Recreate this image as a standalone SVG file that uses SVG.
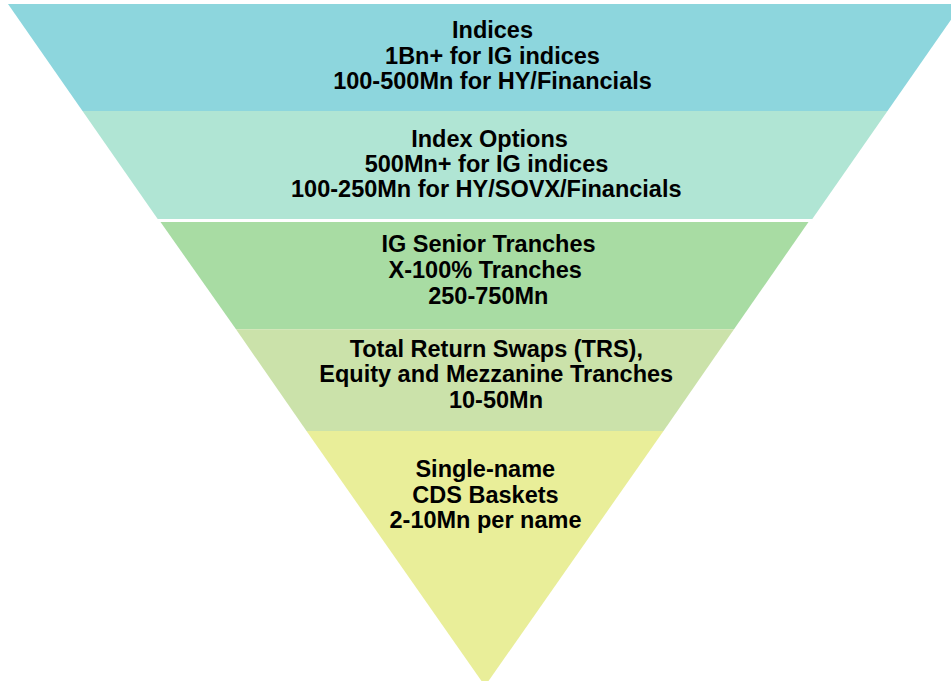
<svg xmlns="http://www.w3.org/2000/svg" width="951" height="681" viewBox="0 0 951 681">
  <style>
    .lbl { font-family: "Liberation Sans", Arial, sans-serif; font-weight: bold; font-size: 23.5px; fill: #000; text-anchor: middle; }
  </style>
  <rect width="951" height="681" fill="#ffffff"/>
  <!-- inverted pyramid: sides follow x = 485 ± 0.70·(686 − y) -->
  <g id="tier-indices">
    <polygon points="8,4 962,4 887.5,111 82.5,111" fill="#8dd6dd"/>
    <text class="lbl" x="492.5" y="38.3">Indices</text>
    <text class="lbl" x="492.5" y="64">1Bn+ for IG indices</text>
    <text class="lbl" x="492.5" y="89">100-500Mn for HY/Financials</text>
  </g>
  <g id="tier-index-options">
    <polygon points="82.5,111 887.5,111 812.3,219 157.7,219" fill="#b0e5d4"/>
    <text class="lbl" x="489.5" y="146.7">Index Options</text>
    <text class="lbl" x="486.5" y="172.3">500Mn+ for IG indices</text>
    <text class="lbl" x="486.3" y="197.3">100-250Mn for HY/SOVX/Financials</text>
  </g>
  <g id="tier-senior-tranches">
    <polygon points="160.5,222 808.5,222 734,329.3 236,329.3" fill="#a8dca3"/>
    <text class="lbl" x="488.5" y="251.7">IG Senior Tranches</text>
    <text class="lbl" x="485.2" y="278.3">X-100% Tranches</text>
    <text class="lbl" x="488.3" y="304">250-750Mn</text>
  </g>
  <g id="tier-trs-mezzanine">
    <polygon points="236,329.3 734,329.3 663.5,431 306.5,431" fill="#cbe2aa"/>
    <text class="lbl" x="496.3" y="356.7">Total Return Swaps (TRS),</text>
    <text class="lbl" x="496.2" y="382.3">Equity and Mezzanine Tranches</text>
    <text class="lbl" x="496" y="407.7">10-50Mn</text>
  </g>
  <g id="tier-single-name">
    <polygon points="306.5,431 663.5,431 485,686" fill="#e9ee99"/>
    <text class="lbl" x="485.3" y="477.3">Single-name</text>
    <text class="lbl" x="485.5" y="503.3">CDS Baskets</text>
    <text class="lbl" x="485.5" y="528.3">2-10Mn per name</text>
  </g>
  <g id="connectors"></g>
</svg>
